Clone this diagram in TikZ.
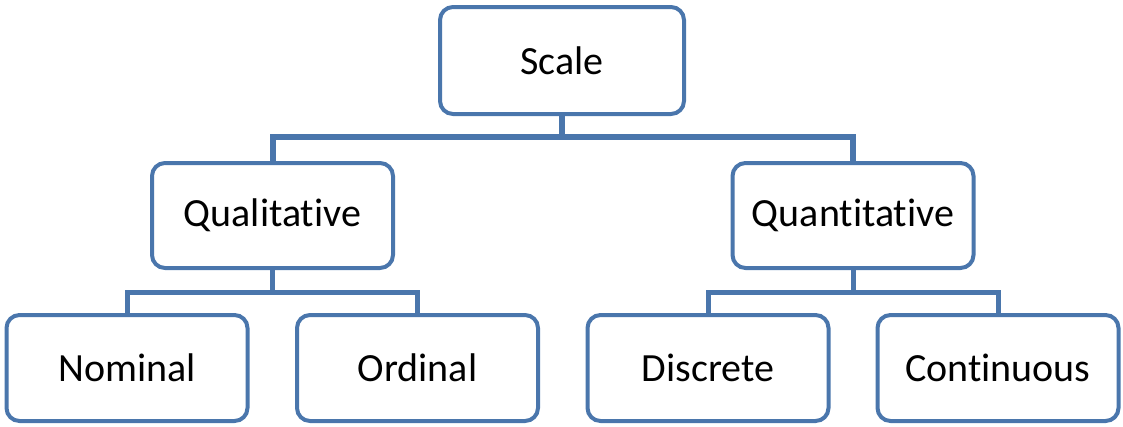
\documentclass[tikz,border=0pt]{standalone}
\usepackage{fontspec}
\setmainfont[Ligatures=NoCommon]{Carlito}
\usepackage{tikz}
\definecolor{boxblue}{HTML}{4A76AC}

\begin{document}
\begin{tikzpicture}[x=1pt, y=-1pt,
			catbox/.style={draw=boxblue, line width=4pt, rounded corners=13pt, fill=white,
							minimum width=241pt, minimum height=106pt, inner sep=0pt,
							font=\fontsize{40}{48}\selectfont},
			link/.style={draw=boxblue, line width=5pt},
			toplink/.style={link, line width=6pt}]

		\path[use as bounding box] (0,0) rectangle (1123,426);

		\node[catbox, minimum width=244pt, minimum height=107pt] (scale) at (562,60.5) {Scale};

		\node[catbox, minimum height=105pt] (qual) at (272.5,215.5) {Qualitative};
		\node[catbox, minimum height=105pt] (quan) at (853,215.5) {Quantitative};

		\node[catbox] (nom) at (127,368) {Nominal};
		\node[catbox] (ord) at (417.5,368) {Ordinal};
		\node[catbox] (disc) at (708,368) {Discrete};
		\node[catbox] (cont) at (998,368) {Continuous};

		\draw[toplink] (scale.south) -- ++(0,21) -| (qual.north);
		\draw[toplink] (scale.south) -- ++(0,21) -| (quan.north);

		\draw[link] (qual.south) -- ++(0,22) -| (nom.north);
		\draw[link] (qual.south) -- ++(0,22) -| (ord.north);
		\draw[link] (quan.south) -- ++(0,22) -| (disc.north);
		\draw[link] (quan.south) -- ++(0,22) -| (cont.north);
	\end{tikzpicture}
\end{document}
